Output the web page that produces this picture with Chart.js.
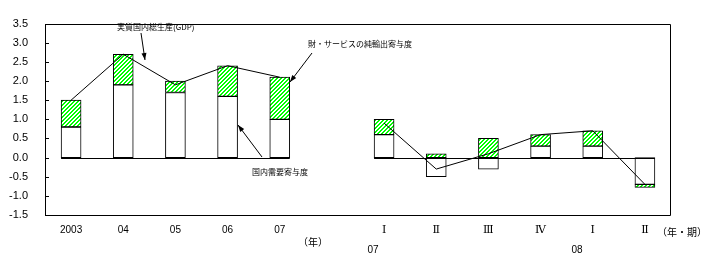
<!DOCTYPE html>
<html>
<head>
<meta charset="utf-8">
<script src="https://cdn.jsdelivr.net/npm/chart.js@4"></script>
<style>
  html, body { margin: 0; padding: 0; background: #fff; }
  #wrap { width: 716px; height: 255px; }
</style>
</head>
<body>
<div id="wrap"><canvas id="gdpChart" width="716" height="255"></canvas></div>
<script>
// years 2003-07, then a blank slot, then quarters 07 I-IV and 08 I-II
const categories = ['2003', '04', '05', '06', '07', '', 'Ⅰ', 'Ⅱ', 'Ⅲ', 'Ⅳ', 'Ⅰ', 'Ⅱ'];
const domesticDemand = [0.8, 1.9, 1.7, 1.6, 1.0, null, 0.6, -0.5, -0.3, 0.3, 0.3, -0.7];
const netExports = [0.7, 0.8, 0.3, 0.8, 1.1, null, 0.4, 0.1, 0.5, 0.3, 0.4, -0.08];
const realGdp = [1.5, 2.7, 1.9, 2.4, 2.1, null, 0.9, -0.3, 0.1, 0.6, 0.7, -0.7];
const yMin = -1.5;
const yMax = 3.5;
const yStep = 0.5;
const segments = [[0, 4], [6, 11]]; // runs of bars sharing a base line

const canvas = document.getElementById('gdpChart');
const ctx = canvas.getContext('2d');

// green / white diagonal hatch
function makeHatch() {
  const tile = document.createElement('canvas');
  tile.width = 4;
  tile.height = 4;
  const t = tile.getContext('2d');
  const img = t.createImageData(4, 4);
  for (let y = 0; y < 4; y++) {
    for (let x = 0; x < 4; x++) {
      const i = (y * 4 + x) * 4;
      const white = (x + y) % 4 < 2;
      img.data[i] = white ? 255 : 0;
      img.data[i + 1] = 255;
      img.data[i + 2] = white ? 255 : 0;
      img.data[i + 3] = 255;
    }
  }
  t.putImageData(img, 0, 0);
  return ctx.createPattern(tile, 'repeat');
}

function arrow(c, x1, y1, x2, y2) {
  c.beginPath();
  c.moveTo(x1, y1);
  c.lineTo(x2, y2);
  c.stroke();
  const a = Math.atan2(y2 - y1, x2 - x1);
  const len = 7, half = 2.5;
  c.beginPath();
  c.moveTo(x2, y2);
  c.lineTo(x2 - len * Math.cos(a) + half * Math.sin(a), y2 - len * Math.sin(a) - half * Math.cos(a));
  c.lineTo(x2 - len * Math.cos(a) - half * Math.sin(a), y2 - len * Math.sin(a) + half * Math.cos(a));
  c.closePath();
  c.fill();
}

const framePlugin = {
  id: 'frame',
  beforeDatasetsDraw(chart) {
    const { ctx: c, chartArea: a, scales } = chart;
    c.save();
    c.strokeStyle = '#000';
    c.lineWidth = 1;
    c.beginPath();
    c.moveTo(Math.round(a.left) + 0.5, Math.round(a.top) + 0.5);
    c.lineTo(Math.round(a.right) - 0.5, Math.round(a.top) + 0.5);
    c.lineTo(Math.round(a.right) - 0.5, Math.round(a.bottom) + 0.5);
    c.lineTo(Math.round(a.left) + 0.5, Math.round(a.bottom) + 0.5);
    c.closePath();
    c.stroke();
    // short inward tick marks on the value axis
    scales.y.ticks.forEach(tk => {
      const y = Math.round(scales.y.getPixelForValue(tk.value)) + 0.5;
      c.beginPath();
      c.moveTo(a.left, y);
      c.lineTo(a.left + 4, y);
      c.stroke();
    });
    c.restore();
  },
  afterDatasetsDraw(chart) {
    const { ctx: c, scales } = chart;
    const bars = chart.getDatasetMeta(0).data;
    const y0 = Math.round(scales.y.getPixelForValue(0)) + 0.5;
    c.save();
    c.strokeStyle = '#000';
    c.lineWidth = 1;
    segments.forEach(([s, e]) => {
      const first = bars[s], last = bars[e];
      c.beginPath();
      c.moveTo(first.x - first.width / 2, y0);
      c.lineTo(last.x + last.width / 2, y0);
      c.stroke();
    });
    c.restore();
  },
  afterDraw(chart) {
    const c = chart.ctx;
    c.save();
    c.fillStyle = '#000';
    c.strokeStyle = '#000';
    c.lineWidth = 1;
    c.textBaseline = 'middle';
    c.font = '8px "Noto Sans CJK JP"';
    c.textAlign = 'left';
    c.fillText('実質国内総生産(GDP)', 117, 27);
    c.fillText('財・サービスの純輸出寄与度', 308, 44);
    c.fillText('国内需要寄与度', 252, 172);
    arrow(c, 141, 33, 145, 60);
    arrow(c, 312, 53, 290, 82);
    arrow(c, 262, 157, 238, 125);

    c.font = '10px "Noto Sans CJK JP"';
    c.textAlign = 'center';
    c.fillText('（年）', 313, 242);
    c.fillText('（年・期）', 682, 232);
    c.font = '10px "Liberation Sans"';
    c.fillText('07', 373, 250);
    c.fillText('08', 577, 250);
    c.restore();
  }
};

new Chart(ctx, {
  data: {
    labels: categories,
    datasets: [{
      type: 'bar',
      label: '国内需要寄与度',
      data: domesticDemand,
      backgroundColor: '#fff',
      borderColor: '#000',
      borderWidth: 1,
      borderSkipped: false,
      barThickness: 20,
      stack: 'contrib',
      order: 1
    }, {
      type: 'bar',
      label: '財・サービスの純輸出寄与度',
      data: netExports,
      backgroundColor: makeHatch(),
      borderColor: '#000',
      borderWidth: 1,
      borderSkipped: false,
      barThickness: 20,
      stack: 'contrib',
      order: 2
    }, {
      type: 'line',
      label: '実質国内総生産(GDP)',
      data: realGdp,
      borderColor: '#000',
      borderWidth: 1,
      pointRadius: 0,
      tension: 0,
      spanGaps: false,
      fill: false,
      stack: 'gdp',
      order: 0
    }]
  },
  options: {
    responsive: false,
    animation: false,
    layout: { padding: { top: 17, right: 45, left: 0, bottom: 0 } },
    plugins: {
      legend: { display: false },
      title: { display: false },
      tooltip: { enabled: false }
    },
    scales: {
      x: {
        stacked: true,
        grid: { display: false, drawTicks: false },
        border: { display: false },
        ticks: {
          autoSkip: false,
          maxRotation: 0,
          padding: 9,
          color: '#000',
          font: (c) => {
            const label = categories[c.index] || '';
            return /^\d/.test(label)
              ? { family: '"Liberation Sans"', size: 10 }
              : { family: '"DejaVu Serif"', size: 11 };
          }
        },
        afterFit: (s) => { s.height = 40; }
      },
      y: {
        stacked: true,
        min: yMin,
        max: yMax,
        grid: { display: false, drawTicks: false },
        border: { display: false },
        ticks: {
          stepSize: yStep,
          padding: 17,
          color: '#000',
          font: { family: '"Liberation Sans"', size: 11 },
          callback: (v) => v.toFixed(1)
        },
        afterFit: (s) => { s.width = 45; }
      }
    }
  },
  plugins: [framePlugin]
});
</script>
</body>
</html>
